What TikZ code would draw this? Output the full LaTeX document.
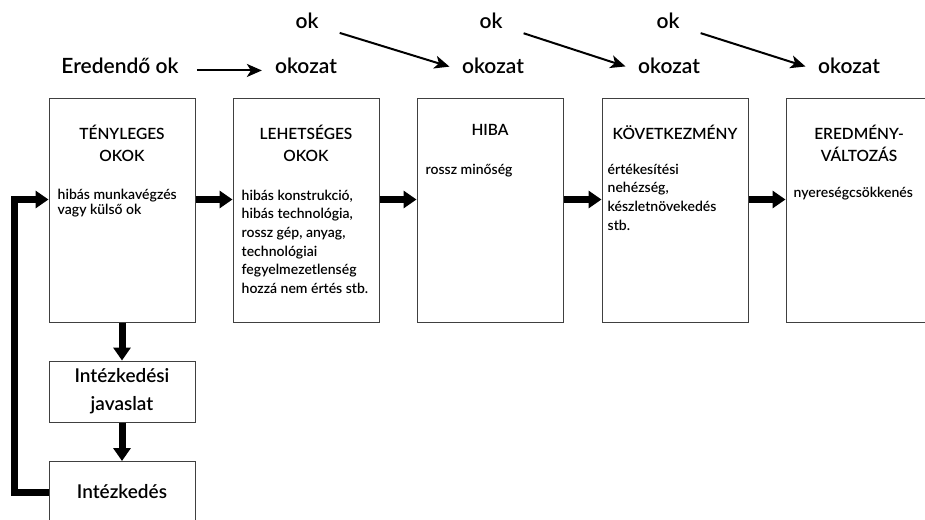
\documentclass[tikz,border=0pt]{standalone}
\usepackage{fontspec}
\setmainfont{Lato}[UprightFont=* Semibold]
\usetikzlibrary{arrows.meta, positioning}

\begin{document}
\begin{tikzpicture}[
    x=1pt, y=-1pt,
    % Node styles
    bigbox/.style={
        rectangle,
        draw=black!75,
        line width=1pt,
        minimum width=146pt,
        minimum height=224pt,
        inner sep=0pt
    },
    smallbox/.style={
        rectangle,
        draw=black!75,
        line width=1pt,
        minimum width=146pt,
        minimum height=61pt,
        align=center,
        font=\fontsize{19}{28}\selectfont
    },
    heading/.style={
        anchor=north,
        align=center,
        inner sep=0pt,
        font=\fontsize{15.5}{22}\selectfont
    },
    body/.style={
        anchor=north west,
        align=left,
        inner sep=0pt,
        font=\fontsize{14}{#1}\selectfont
    },
    body/.default=18.7,
    toplabel/.style={
        inner sep=0pt,
        anchor=base,
        font=\fontsize{21}{24}\selectfont
    },
    fat_arrow/.style={
        -{Triangle[length=13pt, width=17pt]},
        line width=7pt
    },
    thin_arrow/.style={
        -{Stealth[length=15pt, width=13pt, inset=4pt]},
        line width=2pt,
        shorten <=#1,
        shorten >=13pt
    }
]

\useasboundingbox (0,0) rectangle (925,519);
\clip (0,0) rectangle (925,519);

% top row
\node[toplabel] (eredendo) at (120,73) {Eredendő ok};
\node[toplabel] (okozat1) at (306,73) {okozat};
\node[toplabel] (okozat2) at (493,73) {okozat};
\node[toplabel] (okozat3) at (669,73) {okozat};
\node[toplabel] (okozat4) at (849,73) {okozat};

\node[toplabel] (ok1) at (307,29) {ok};
\node[toplabel] (ok2) at (491,29) {ok};
\node[toplabel] (ok3) at (668,29) {ok};

% boxes
\node[bigbox] (tenyleges) at (122,210) {};
\node[bigbox] (lehetseges) at (306,210) {};
\node[bigbox] (hiba) at (490,210) {};
\node[bigbox] (kovetkezmeny) at (675,210) {};
\node[bigbox] (eredmeny) at (859,210) {};

\node[heading] (tenyleges_h) at ([yshift=-27]tenyleges.north) {TÉNYLEGES\\OKOK};
\node[heading] (lehetseges_h) at ([yshift=-27]lehetseges.north) {LEHETSÉGES\\OKOK};
\node[heading] (hiba_h) at ([yshift=-27]hiba.north) {HIBA};
\node[heading] (kovetkezmeny_h) at ([yshift=-27]kovetkezmeny.north) {KÖVETKEZMÉNY};
\node[heading] (eredmeny_h) at ([yshift=-27]eredmeny.north) {EREDMÉNY-\\VÁLTOZÁS};

\node[body=15] (tenyleges_b) at ([xshift=9, yshift=-91]tenyleges.north west) {hibás munkavégzés\\vagy külső ok};
\node[body] (lehetseges_b) at ([xshift=9, yshift=-92]lehetseges.north west) {hibás konstrukció,\\hibás technológia,\\rossz gép, anyag,\\technológiai\\fegyelmezetlenség\\hozzá nem értés stb.};
\node[body] (hiba_b) at ([xshift=9, yshift=-66]hiba.north west) {rossz minőség};
\node[body] (kovetkezmeny_b) at ([xshift=6, yshift=-66]kovetkezmeny.north west) {értékesítési\\nehézség,\\készletnövekedés\\stb.};
\node[body] (eredmeny_b) at ([xshift=8, yshift=-89]eredmeny.north west) {nyereségcsökkenés};

\node[smallbox] (javaslat) at (122,391.5) {Intézkedési\\javaslat};
\node[smallbox] (intezkedes) at (122,492) {Intézkedés};

% draw arrows
\draw[thin_arrow=18pt] (eredendo.mid east) -- (okozat1.mid west);
\draw[thin_arrow=22pt] (ok1.mid east) -- (okozat2.mid west);
\draw[thin_arrow=22pt] (ok2.mid east) -- (okozat3.mid west);
\draw[thin_arrow=22pt] (ok3.mid east) -- (okozat4.mid west);

\draw[fat_arrow] ([yshift=10.5]tenyleges.east) -- ([yshift=10.5]lehetseges.west);
\draw[fat_arrow] ([yshift=10.5]lehetseges.east) -- ([yshift=10.5]hiba.west);
\draw[fat_arrow] ([yshift=10.5]hiba.east) -- ([yshift=10.5]kovetkezmeny.west);
\draw[fat_arrow] ([yshift=10.5]kovetkezmeny.east) -- ([yshift=10.5]eredmeny.west);

\draw[fat_arrow] (tenyleges.south) -- (javaslat.north);
\draw[fat_arrow] (javaslat.south) -- (intezkedes.north);

\draw[fat_arrow] (intezkedes.west) -- ++(-34,0) |- ([yshift=10.5]tenyleges.west);

\end{tikzpicture}
\end{document}
